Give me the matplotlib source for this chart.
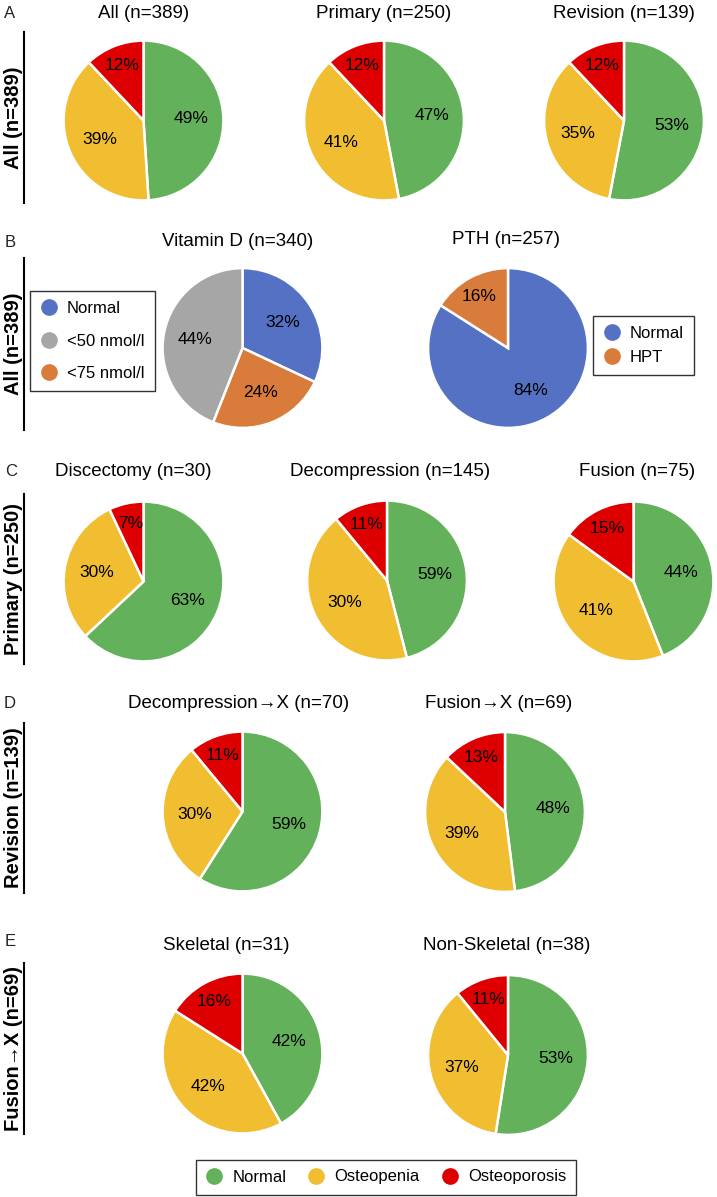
import numpy as np
import matplotlib
matplotlib.use("Agg")
import matplotlib.pyplot as plt
from matplotlib.lines import Line2D

plt.rcParams['font.family'] = ['Liberation Sans', 'DejaVu Sans']

# ---------------- data ----------------
bone_categories = ["Normal", "Osteopenia", "Osteoporosis"]
all_all = [49, 39, 12]
all_primary = [47, 41, 12]
all_revision = [53, 35, 12]

vitd_categories = ["Normal", "<75 nmol/l", "<50 nmol/l"]   # clockwise order
vitd_values = [32, 24, 44]
vitd_legend_order = ["Normal", "<50 nmol/l", "<75 nmol/l"]

pth_categories = ["Normal", "HPT"]
pth_values = [84, 16]

prim_discectomy = [63, 30, 7]
prim_decompression_wedges = [46, 43, 11]        # slice sizes as drawn
prim_decompression_labels = [59, 30, 11]        # numbers printed on the slices
prim_fusion = [44, 41, 15]

rev_decompression_x = [59, 30, 11]
rev_fusion_x = [48, 39, 13]

fx_skeletal = [42, 42, 16]
fx_nonskeletal = [53, 37, 11]

titles_A = ["All (n=389)", "Primary (n=250)", "Revision (n=139)"]
titles_B = ["Vitamin D (n=340)", "PTH (n=257)"]
titles_C = ["Discectomy (n=30)", "Decompression (n=145)", "Fusion (n=75)"]
titles_D = ["Decompression\u2192X (n=70)", "Fusion\u2192X (n=69)"]
titles_E = ["Skeletal (n=31)", "Non-Skeletal (n=38)"]
row_labels = ["All (n=389)", "All (n=389)", "Primary (n=250)",
              "Revision (n=139)", "Fusion\u2192X (n=69)"]
panel_letters = ["A", "B", "C", "D", "E"]

# ---------------- styles ----------------
GREEN, YELLOW, RED = "#63B15A", "#F0BE30", "#DE0000"
BLUE, GREY, ORANGE = "#5571C3", "#A6A6A6", "#D97B3B"
bone_colors = [GREEN, YELLOW, RED]
vitd_colors = {"Normal": BLUE, "<75 nmol/l": ORANGE, "<50 nmol/l": GREY}
pth_colors = [BLUE, ORANGE]

W, H = 717, 1197
fig = plt.figure(figsize=(W / 100, H / 100), dpi=100)
R = 81.5


def fxp(x):
    return x / W


def fyp(y):
    return 1 - y / H


def pie(cx, cy, values, colors, labels=None):
    ax = fig.add_axes([fxp(cx - R), fyp(cy + R), 2 * R / W, 2 * R / H])
    wedges, _ = ax.pie(values, colors=colors, startangle=90, counterclock=False,
                       radius=1, wedgeprops=dict(edgecolor="white", linewidth=1.8))
    if labels is None:
        labels = values
    for w, lab in zip(wedges, labels):
        span = (w.theta2 - w.theta1)
        mid = np.deg2rad((w.theta1 + w.theta2) / 2)
        d = 0.74 if span < 65 else 0.6
        ax.text(d * np.cos(mid), d * np.sin(mid), f"{lab}%", ha="center",
                va="center", fontsize=12.5, color="black")
    ax.set_xlim(-1.02, 1.02)
    ax.set_ylim(-1.02, 1.02)
    ax.set_aspect("equal")
    ax.axis("off")
    return ax


def title(x, y, s):
    fig.text(fxp(x), fyp(y), s, ha="center", va="center", fontsize=13.5)


# Row A
for (cx, vals, t, tx) in zip([143.5, 384, 624], [all_all, all_primary, all_revision],
                             titles_A, [144, 384, 624]):
    pie(cx, 120.5, vals, bone_colors)
    title(tx, 13, t)

# Row B
pie(242.5, 348, vitd_values, [vitd_colors[c] for c in vitd_categories])
title(237.5, 241, titles_B[0])
pie(508, 348, pth_values, pth_colors)
title(506.5, 240, titles_B[1])

# Row C
pie(143.5, 581.5, prim_discectomy, bone_colors)
pie(387, 580.5, prim_decompression_wedges, bone_colors, prim_decompression_labels)
pie(633.5, 581.5, prim_fusion, bone_colors)
for tx, t in zip([133, 390, 637], titles_C):
    title(tx, 472, t)

# Row D
pie(242.5, 811.5, rev_decompression_x, bone_colors)
pie(505, 812, rev_fusion_x, bone_colors)
for tx, t in zip([238.5, 498.5], titles_D):
    title(tx, 703, t)

# Row E
pie(242.5, 1053.5, fx_skeletal, bone_colors)
pie(508, 1055, fx_nonskeletal, bone_colors)
for tx, t in zip([226, 506.5], titles_E):
    title(tx, 945, t)

# Row labels with vertical rule
row_spans = [(32, 203), (258, 430), (494, 664), (723, 893), (963, 1134)]
for lab, (y0, y1) in zip(row_labels, row_spans):
    fig.add_artist(Line2D([fxp(24), fxp(24)], [fyp(y0), fyp(y1)],
                          color="black", linewidth=1.5))
    fig.text(fxp(14), fyp((y0 + y1) / 2), lab, rotation=90, ha="center",
             va="center", fontsize=14.5, fontweight="bold")

# Panel letters
for letter, (x, y) in zip(panel_letters, [(10, 13), (10, 243), (11, 472),
                                          (10, 704), (10, 941)]):
    fig.text(fxp(x), fyp(y), letter, ha="center", va="center", fontsize=12,
             color="#222222")


def handles(cats, cmap):
    return [Line2D([], [], marker="o", linestyle="", markersize=11,
                   markerfacecolor=cmap[c], markeredgecolor=cmap[c], label=c)
            for c in cats]


leg_kw = dict(frameon=True, fancybox=False, edgecolor="black", fontsize=12,
              handlelength=1.0, handletextpad=0.6, borderpad=0.6)

l1 = fig.legend(handles=handles(vitd_legend_order, vitd_colors), loc="center",
                bbox_to_anchor=(fxp(92.5), fyp(341)), labelspacing=1.05, **leg_kw)
l1.get_frame().set_linewidth(1.0)

l2 = fig.legend(handles=handles(pth_categories, dict(zip(pth_categories, pth_colors))),
                loc="center", bbox_to_anchor=(fxp(643.5), fyp(345.5)),
                labelspacing=0.55, **leg_kw)
l2.get_frame().set_linewidth(1.0)

l3 = fig.legend(handles=handles(bone_categories, dict(zip(bone_categories, bone_colors))),
                loc="center", bbox_to_anchor=(fxp(386), fyp(1177)), ncol=3,
                columnspacing=1.3, **leg_kw)
l3.get_frame().set_linewidth(1.0)

fig.savefig("out.png", dpi=100)
